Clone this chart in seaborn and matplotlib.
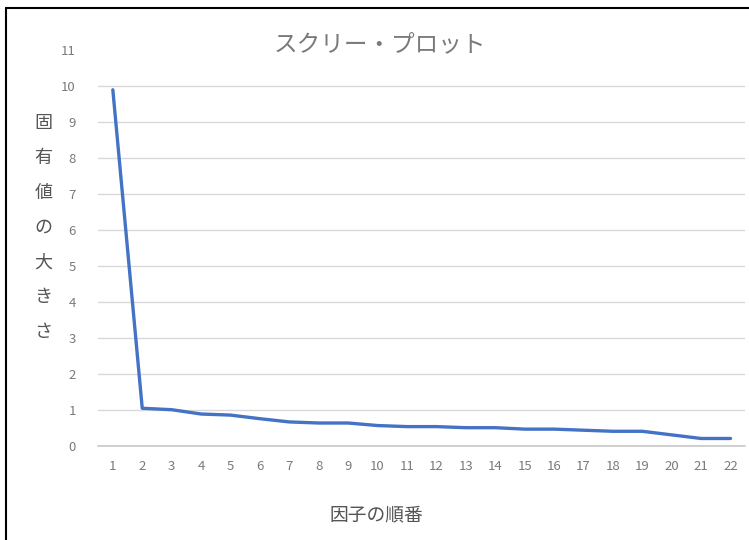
import numpy as np
import pandas as pd
import matplotlib
matplotlib.use("Agg")
import matplotlib.pyplot as plt
from matplotlib.lines import Line2D
import seaborn as sns

# 因子の順番と固有値
factors = list(range(1, 23))
eigenvalues = [9.9, 1.05, 1.01, 0.89, 0.86, 0.76, 0.67, 0.64, 0.64, 0.57, 0.54,
               0.54, 0.51, 0.51, 0.47, 0.47, 0.44, 0.41, 0.41, 0.31, 0.21, 0.21]
y_ticks = list(range(0, 12))

title = "スクリー・プロット"
xlabel = "因子の順番"
ylabel = "固有値の大きさ"

sns.set_theme(style="white")
plt.rcParams["font.family"] = ["Noto Sans CJK JP", "DejaVu Sans"]

df = pd.DataFrame({"factor": factors, "eigen": eigenvalues})

fig = plt.figure(figsize=(7.49, 5.40), dpi=100)
ax = fig.add_axes([0.131, 0.174, 0.864, 0.733])

sns.lineplot(data=df, x="factor", y="eigen", ax=ax, color="#4472C4",
             linewidth=2.4, zorder=3)

ax.set_xlim(0.5, 22.5)
ax.set_ylim(0, 11)
ax.set_yticks(y_ticks)
ax.set_xticks(factors)
ax.tick_params(axis="both", length=0, labelsize=9.5, colors="#7a7a7a")
ax.tick_params(axis="y", pad=16)
ax.tick_params(axis="x", pad=10)
ax.yaxis.grid(True, color="#d9d9d9", linewidth=1)
gls = ax.yaxis.get_gridlines()
gls[-1].set_visible(False)
for s in ax.spines.values():
    s.set_visible(False)
ax.axhline(0, color="#c8c8c8", linewidth=1.2, clip_on=False, zorder=2)
ax.set_xlabel("")
ax.set_ylabel("")

fig.text(0.507, 0.917, title, ha="center", va="center", fontsize=17,
         color="#7a7a7a")
fig.text(0.503, 0.046, xlabel, ha="center", va="center", fontsize=13.5,
         color="#555555")

# 縦書きのY軸ラベル
for i, ch in enumerate(ylabel):
    fig.text(0.058, 1 - (123 + i * 34.8) / 540, ch, ha="center", va="center",
             fontsize=13, color="#555555")

# 外枠
fig.add_artist(Line2D([0.008, 0.008], [0, 0.985], color="black", linewidth=1.5))
fig.add_artist(Line2D([0.008, 1], [0.985, 0.985], color="black", linewidth=1.5))

fig.savefig("out.png", dpi=100)
